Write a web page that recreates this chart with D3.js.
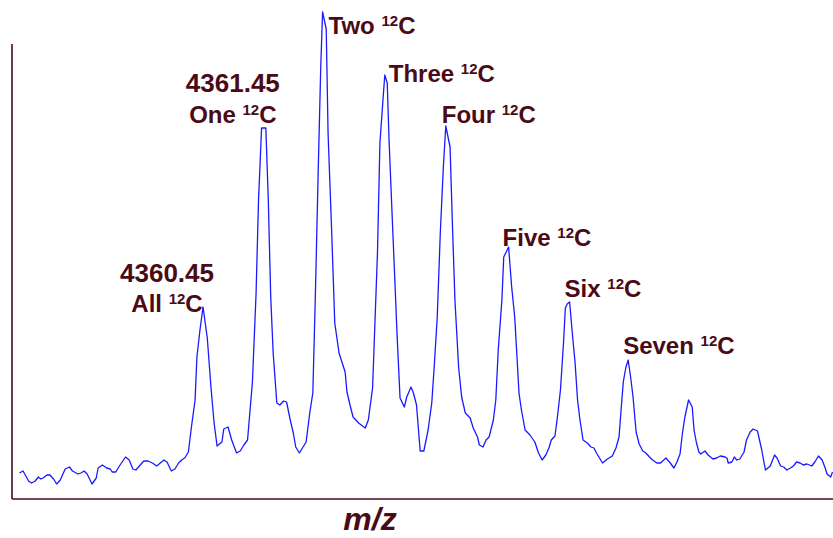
<!DOCTYPE html>
<html>
<head>
<meta charset="utf-8">
<script src="https://cdn.jsdelivr.net/npm/d3@7"></script>
<style>
body{margin:0;background:#fff}
svg{display:block}
</style>
</head>
<body>
<div id="chart"></div>
<script>
// spectrum
const mz = [
  4357.44,4357.50,4357.59,4357.64,4357.70,4357.75,4357.79,4357.83,4357.89,4357.94,
  4358.00,4358.05,4358.11,4358.19,4358.26,4358.31,4358.40,4358.45,4358.50,4358.55,
  4358.63,4358.70,4358.73,4358.80,4358.87,4358.93,4358.96,4359.02,4359.09,4359.18,
  4359.24,4359.30,4359.35,4359.42,4359.48,4359.55,4359.62,4359.69,4359.75,4359.81,
  4359.86,4359.93,4359.99,4360.05,4360.10,4360.15,4360.21,4360.26,4360.32,4360.35,
  4360.40,4360.45,4360.52,4360.58,4360.63,4360.68,4360.76,4360.79,4360.86,4360.92,
  4361.00,4361.06,4361.12,4361.18,4361.26,4361.32,4361.36,4361.41,4361.48,4361.52,
  4361.56,4361.60,4361.66,4361.71,4361.77,4361.82,4361.88,4361.93,4361.97,4362.03,
  4362.08,4362.14,4362.20,4362.25,4362.29,4362.34,4362.38,4362.41,4362.47,4362.50,
  4362.56,4362.61,4362.68,4362.78,4362.81,4362.86,4362.91,4363.00,4363.11,4363.16,
  4363.23,4363.27,4363.31,4363.35,4363.40,4363.43,4363.47,4363.50,4363.54,4363.59,
  4363.63,4363.68,4363.75,4363.79,4363.86,4363.90,4363.95,4364.01,4364.07,4364.14,
  4364.20,4364.24,4364.29,4364.34,4364.39,4364.43,4364.50,4364.54,4364.58,4364.64,
  4364.69,4364.75,4364.83,4364.88,4364.95,4364.98,4365.04,4365.09,4365.14,4365.21,
  4365.25,4365.29,4365.35,4365.38,4365.46,4365.51,4365.56,4365.60,4365.63,4365.67,
  4365.73,4365.81,4365.89,4365.95,4366.01,4366.07,4366.12,4366.16,4366.22,4366.26,
  4366.31,4366.36,4366.39,4366.42,4366.46,4366.51,4366.55,4366.59,4366.63,4366.68,
  4366.75,4366.81,4366.86,4366.90,4367.00,4367.08,4367.16,4367.22,4367.27,4367.30,
  4367.34,4367.38,4367.42,4367.46,4367.50,4367.55,4367.60,4367.66,4367.71,4367.77,
  4367.82,4367.89,4367.95,4368.04,4368.11,4368.17,4368.22,4368.27,4368.31,4368.35,
  4368.41,4368.47,4368.50,4368.54,4368.58,4368.61,4368.68,4368.73,4368.81,4368.87,
  4368.93,4369.01,4369.04,4369.06,4369.12,4369.16,4369.20,4369.25,4369.32,4369.36,
  4369.42,4369.47,4369.54,4369.61,4369.67,4369.75,4369.82,4369.86,4369.92,4369.97,
  4370.02,4370.08,4370.13,4370.18,4370.24,4370.29,4370.35,4370.43,4370.48,4370.54,
  4370.60,4370.65,4370.68,4370.74,4370.77
];
const intensity = [
  25,27,17,15,17,21,19,20,23,23,
  19,14,18,29,31,27,24,25,27,24,
  14,20,30,33,30,29,26,26,33,41,
  38,29,28,33,37,37,35,32,35,38,
  36,27,29,35,38,40,46,71,98,141,
  168,191,160,111,76,52,56,69,71,58,
  45,47,53,58,116,205,298,370,370,298,
  201,145,95,93,97,96,78,65,51,45,
  50,56,85,105,198,331,431,486,469,365,
  265,175,145,126,106,93,81,75,70,78,
  110,178,245,355,398,423,415,358,298,225,
  165,100,91,101,111,105,93,47,47,68,
  95,131,181,265,331,372,351,271,198,131,
  101,85,80,70,61,53,51,58,61,78,
  98,148,198,241,251,211,181,138,105,88,
  68,63,56,45,38,43,50,58,62,81,
  108,155,190,194,196,161,135,98,78,58,
  55,51,50,45,35,39,42,50,61,85,
  116,130,138,121,101,66,54,47,45,41,
  38,35,35,40,35,30,36,44,65,81,
  98,91,68,55,46,44,47,43,39,40,
  42,41,40,35,36,41,38,39,46,58,
  66,69,67,48,28,32,43,40,32,31,
  28,30,32,36,35,33,34,32,36,42,
  38,30,24,21,26
];

// peak annotations
const peakNames = ['All','One','Two','Three','Four','Five','Six','Seven'];
const peakMz = [4360.45,4361.45,4362.41,4363.43,4364.43,4365.46,4366.46,4367.42];
const massText = ['4360.45','4361.45'];
const xTitle = 'm/z';

// label placement relative to the peak top (pixels)
const labelLayout = [
  {anchor:'middle', dx:-36, dy:5},
  {anchor:'middle', dx:-33, dy:-5},
  {anchor:'start', dx:6, dy:22},
  {anchor:'start', dx:4, dy:7},
  {anchor:'start', dx:-4, dy:-3},
  {anchor:'start', dx:-6, dy:-1},
  {anchor:'start', dx:-5, dy:-5},
  {anchor:'start', dx:-5, dy:-6}
];
const massDy = [-25, -36];

const width = 833, height = 538;
const plot = {left:12, right:833, top:44, bottom:499};
const ink = '#4b0a15';
const font = '"Liberation Sans", Arial, sans-serif';

const data = mz.map((m,i) => ({mz:m, v:intensity[i]}));

const svg = d3.select('#chart')
  .append('svg')
  .attr('width', width)
  .attr('height', height)
  .attr('viewBox', [0,0,width,height]);

const x = d3.scaleLinear()
  .domain([4357.302, 4370.778])
  .range([11, 833]);

const y = d3.scaleLinear()
  .domain([0, 487])
  .range([498, 11]);

// axes frame (no ticks in the original)
svg.append('line')
  .attr('x1', plot.left).attr('x2', plot.left)
  .attr('y1', plot.top).attr('y2', plot.bottom)
  .attr('stroke', ink).attr('stroke-width', 1.6);
svg.append('line')
  .attr('x1', plot.left).attr('x2', plot.right)
  .attr('y1', plot.bottom).attr('y2', plot.bottom)
  .attr('stroke', ink).attr('stroke-width', 1.6);

const line = d3.line()
  .x(d => x(d.mz))
  .y(d => y(d.v));

svg.append('path')
  .datum(data)
  .attr('fill', 'none')
  .attr('stroke', '#1a1aff')
  .attr('stroke-width', 1.3)
  .attr('stroke-linejoin', 'round')
  .attr('d', line);

// find the top of each labelled peak in the data
const apex = peakMz.map(p => d3.least(data, d => Math.abs(d.mz - p)));

const lab = svg.append('g')
  .attr('fill', ink)
  .attr('font-family', font)
  .attr('font-weight', 'bold');

peakNames.forEach((name, i) => {
  const L = labelLayout[i];
  const t = lab.append('text')
    .attr('x', x(apex[i].mz) + L.dx)
    .attr('y', y(apex[i].v) + L.dy)
    .attr('text-anchor', L.anchor)
    .attr('font-size', 24);
  t.append('tspan').text(name + ' ');
  t.append('tspan').attr('font-size', 15).attr('dy', -8).text('12');
  t.append('tspan').attr('dy', 8).text('C');
});

massText.forEach((m, i) => {
  const L = labelLayout[i];
  lab.append('text')
    .attr('x', x(apex[i].mz) + L.dx)
    .attr('y', y(apex[i].v) + massDy[i])
    .attr('text-anchor', 'middle')
    .attr('font-size', 26)
    .text(m);
});

svg.append('text')
  .attr('x', 370)
  .attr('y', 530)
  .attr('text-anchor', 'middle')
  .attr('fill', ink)
  .attr('font-family', font)
  .attr('font-weight', 'bold')
  .attr('font-style', 'italic')
  .attr('font-size', 32)
  .text(xTitle);
</script>
</body>
</html>
